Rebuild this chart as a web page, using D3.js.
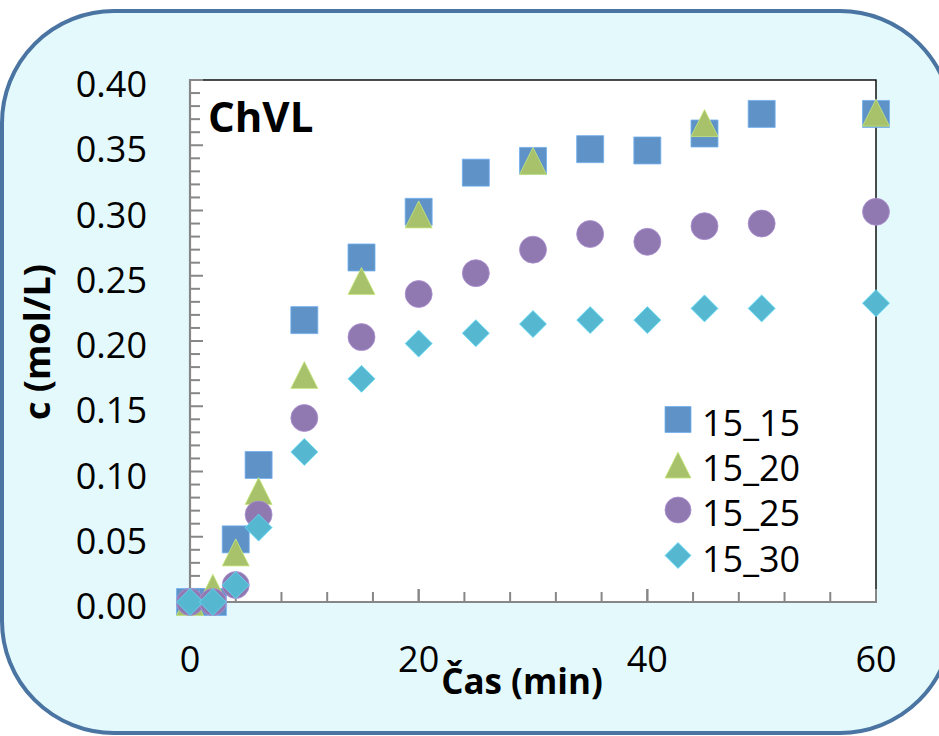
<!DOCTYPE html>
<html>
<head>
<meta charset="utf-8">
<script src="https://cdn.jsdelivr.net/npm/d3@7"></script>
<style>
  html, body { margin: 0; padding: 0; background: #ffffff; }
  svg { display: block; }
  text { font-family: "Open Sans", "Noto Sans", sans-serif; fill: #000; }
</style>
</head>
<body>
<svg id="chart" width="939" height="736"></svg>
<script>
// ---- data ----
const seriesNames = ["15_15", "15_20", "15_25", "15_30"];
const times15 = [0, 2, 4, 6, 10, 15, 20, 25, 30, 35, 40, 45, 50, 60];
const values15 = [0.000, 0.000, 0.048, 0.105, 0.216, 0.264, 0.299, 0.329, 0.338, 0.347, 0.346, 0.359, 0.374, 0.374];
const times20 = [0, 2, 4, 6, 10, 15, 20, 30, 45, 60];
const values20 = [0.000, 0.011, 0.038, 0.085, 0.174, 0.246, 0.297, 0.338, 0.367, 0.375];
const times25 = [0, 2, 4, 6, 10, 15, 20, 25, 30, 35, 40, 45, 50, 60];
const values25 = [0.000, 0.000, 0.013, 0.067, 0.141, 0.203, 0.236, 0.252, 0.270, 0.282, 0.276, 0.288, 0.290, 0.299];
const times30 = [0, 2, 4, 6, 10, 15, 20, 25, 30, 35, 40, 45, 50, 60];
const values30 = [0.000, 0.000, 0.013, 0.057, 0.115, 0.171, 0.198, 0.206, 0.213, 0.216, 0.216, 0.225, 0.225, 0.229];
const xTickLabels = [0, 20, 40, 60];
const yTickLabels = [0.00, 0.05, 0.10, 0.15, 0.20, 0.25, 0.30, 0.35, 0.40];
const chartTitle = "ChVL";
const xTitle = "Čas (min)";
const yTitle = "c (mol/L)";

const series = [
  { name: seriesNames[0], t: times15, v: values15, shape: "square",   color: "#5f93c8" },
  { name: seriesNames[1], t: times20, v: values20, shape: "triangle", color: "#a7c26a" },
  { name: seriesNames[2], t: times25, v: values25, shape: "circle",   color: "#9079b0" },
  { name: seriesNames[3], t: times30, v: values30, shape: "diamond",  color: "#55b8d0" }
];

// ---- layout ----
const svg = d3.select("#chart");
const plot = { left: 190, right: 876, top: 80, bottom: 602 };
const x = d3.scaleLinear().domain([0, 60]).range([plot.left, plot.right]);
const y = d3.scaleLinear().domain([0, 0.40]).range([plot.bottom, plot.top]);

// outer rounded panel
svg.append("rect")
  .attr("x", 2).attr("y", 11).attr("width", 950).attr("height", 722)
  .attr("rx", 112).attr("ry", 112)
  .attr("fill", "#e4f9fb").attr("stroke", "#4a74a2").attr("stroke-width", 4);

// plot area
svg.append("rect")
  .attr("x", plot.left).attr("y", plot.top)
  .attr("width", plot.right - plot.left).attr("height", plot.bottom - plot.top)
  .attr("fill", "#ffffff").attr("stroke", "#000").attr("stroke-width", 1.4);

const axisColor = "#878787";

// y axis (ticks inward)
const yMinor = d3.range(0, 41).map(i => i / 100);
const yAxis = d3.axisRight(y).tickValues(yMinor)
  .tickSize(0).tickFormat("");
const gy = svg.append("g").attr("transform", `translate(${plot.left},0)`);
gy.selectAll("line.tk").data(yMinor).join("line")
  .attr("class", "tk")
  .attr("x1", 0).attr("x2", (d, i) => (i % 5 === 0 ? 13 : 10))
  .attr("y1", d => y(d)).attr("y2", d => y(d))
  .attr("stroke", axisColor).attr("stroke-width", 2);
gy.append("line").attr("x1", 0).attr("x2", 0)
  .attr("y1", y(0.40) - 1).attr("y2", y(0) + 1)
  .attr("stroke", axisColor).attr("stroke-width", 2.2);

// x axis (ticks inward)
const xMinor = d3.range(0, 61, 4);
const xMajor = d3.range(0, 61, 20);
const gx = svg.append("g").attr("transform", `translate(0,${plot.bottom})`);
gx.selectAll("line.tk").data(xMinor.concat(xMajor)).join("line")
  .attr("class", "tk")
  .attr("x1", d => x(d)).attr("x2", d => x(d))
  .attr("y1", 0).attr("y2", d => (d % 20 === 0 ? -13 : -10))
  .attr("stroke", axisColor).attr("stroke-width", 2);
gx.append("line").attr("x1", x(0) - 1).attr("x2", x(60) + 1)
  .attr("y1", 0).attr("y2", 0)
  .attr("stroke", axisColor).attr("stroke-width", 2.2);

// tick labels
svg.append("g").selectAll("text").data(yTickLabels).join("text")
  .attr("x", 147).attr("y", d => y(d) + 17)
  .attr("text-anchor", "end").attr("font-size", 36)
  .text(d => d3.format(".2f")(d));
svg.append("g").selectAll("text").data(xTickLabels).join("text")
  .attr("x", d => x(d)).attr("y", 672)
  .attr("text-anchor", "middle").attr("font-size", 36)
  .text(d => d);

// axis titles
svg.append("text")
  .attr("x", 522).attr("y", 694)
  .attr("text-anchor", "middle").attr("font-size", 35).attr("font-weight", "bold")
  .text(xTitle);
svg.append("text")
  .attr("transform", "translate(50,342) rotate(-90)")
  .attr("text-anchor", "middle").attr("font-size", 36).attr("font-weight", "bold")
  .text(yTitle);

// chart label
svg.append("text")
  .attr("x", 208).attr("y", 132)
  .attr("font-size", 42).attr("font-weight", "bold")
  .text(chartTitle);

// markers
function markerPath(shape, s) {
  const h = s / 2;
  switch (shape) {
    case "square": return `M${-h},${-h}H${h}V${h}H${-h}Z`;
    case "triangle": return `M0,${-h}L${h},${h}L${-h},${h}Z`;
    case "diamond": return `M0,${-h}L${h},0L0,${h}L${-h},0Z`;
    case "circle": return `M${h},0A${h},${h} 0 1,1 ${-h},0A${h},${h} 0 1,1 ${h},0Z`;
  }
}
const markerSize = { square: 27, triangle: 27, circle: 27, diamond: 27 };

series.forEach(s => {
  const pts = s.t.map((t, i) => ({ t: t, v: s.v[i] }));
  svg.append("g").selectAll("path").data(pts).join("path")
    .attr("transform", d => `translate(${x(d.t)},${y(d.v)})`)
    .attr("d", markerPath(s.shape, markerSize[s.shape]))
    .attr("fill", s.color)
    .attr("stroke", d3.color(s.color).brighter(0.5))
    .attr("stroke-width", 0.8);
});

// legend
const legendRows = [419.5, 465, 510, 555.5];
const lg = svg.append("g");
series.forEach((s, i) => {
  lg.append("path")
    .attr("transform", `translate(678,${legendRows[i]})`)
    .attr("d", markerPath(s.shape, 26))
    .attr("fill", s.color)
    .attr("stroke", d3.color(s.color).brighter(0.5))
    .attr("stroke-width", 0.8);
  lg.append("text")
    .attr("x", 702).attr("y", legendRows[i] + 16)
    .attr("font-size", 36)
    .text(s.name);
});
</script>
</body>
</html>
